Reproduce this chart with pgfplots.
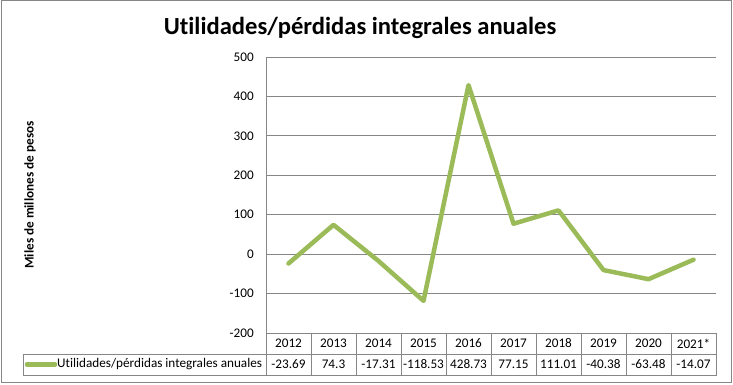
\documentclass[border=0pt]{standalone}
\usepackage{pgfplots}
\pgfplotsset{compat=1.18}
\usepackage{fontspec}
\setmainfont[Ligatures=NoCommon]{Carlito}
\definecolor{serie}{HTML}{9BBB59}
\definecolor{gridc}{HTML}{868686}
\newcommand{\fs}[1]{\fontsize{#1bp}{#1bp}\selectfont}
\begin{document}
\begin{tikzpicture}[x=1bp,y=1bp]
\useasboundingbox (0,0) rectangle (733,384);
\draw[gridc, line width=1bp] (1,1.5) rectangle (731.5,383);
\node[font=\bfseries\fs{24.6}] at (360,356) {Utilidades/pérdidas integrales anuales};
\node[font=\bfseries\fs{13.2}, rotate=90] at (30,189) {Miles de millones de pesos};
\begin{axis}[
  at={(266bp,51bp)}, anchor=south west,
  scale only axis, width=450bp, height=276bp,
  xmin=-0.5, xmax=9.5, ymin=-200, ymax=500,
  xtick=\empty,
  ytick={-200,-100,0,100,200,300,400,500},
  axis x line=none,
  axis y line*=left,
  axis line style={gridc, line width=0.75bp},
  ymajorgrids,
  grid style={gridc, line width=0.75bp},
  major tick length=0pt,
  /pgf/number format/assume math mode=true,
  yticklabel style={font=\fs{13.2}, inner sep=0pt, xshift=-12bp},
  clip=false,
]
\addplot[serie, line width=4.5bp, line join=round, line cap=round] coordinates {
(0,-23.69) (1,74.3) (2,-17.31) (3,-118.53) (4,428.73) (5,77.15) (6,111.01) (7,-40.38) (8,-63.48) (9,-14.07)};
\end{axis}
% data table
\draw[gridc, line width=0.75bp] (266,51) -- (716,51) -- (716,9) -- (23,9) -- (23,30) -- (716,30);
\foreach \k in {0,...,9} {
  \draw[gridc, line width=0.75bp] ({266+45*\k},51) -- ({266+45*\k},9);
}
\foreach \y [count=\i from 0] in {2012,2013,2014,2015,2016,2017,2018,2019,2020,2021*} {
  \node[font=\fs{13.2}] at ({266+45*(\i+0.5)},40.5) {\y};
}
\foreach \v [count=\i from 0] in {-23.69,74.3,-17.31,-118.53,428.73,77.15,111.01,-40.38,-63.48,-14.07} {
  \node[font=\fs{13.2}] at ({266+45*(\i+0.5)},19.5) {\v};
}
\draw[serie, line width=4.5bp, line cap=round] (27,19.5) -- (55,19.5);
\node[font=\fs{13.2}, anchor=west, inner sep=0pt] at (57,19.5) {Utilidades/pérdidas integrales anuales};
\end{tikzpicture}
\end{document}
